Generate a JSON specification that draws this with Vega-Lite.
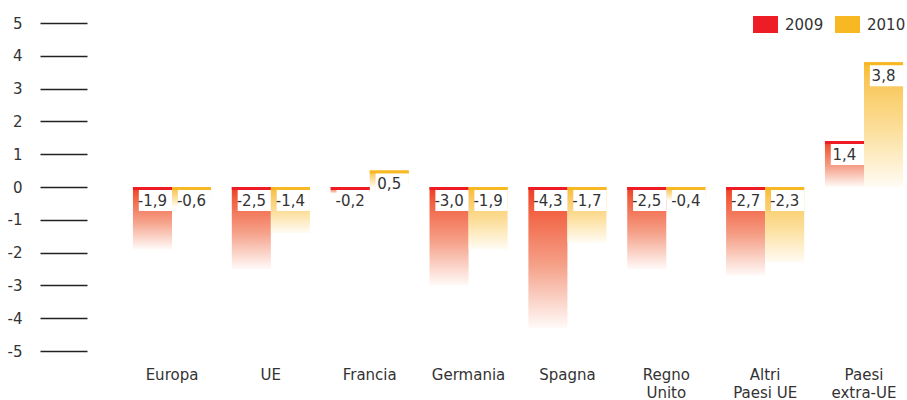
{
  "$schema": "https://vega.github.io/schema/vega-lite/v6.json",
  "width": 778,
  "height": 328,
  "autosize": {"type": "none"},
  "padding": {"left": 129, "top": 23, "right": 0, "bottom": 49},
  "config": {
    "view": {"stroke": null},
    "font": "DejaVu Sans",
    "locale": {"number": {"decimal": ",", "thousands": ".", "grouping": [3], "currency": ["€", ""], "minus": "-"}},
    "axisY": {
      "title": null, "grid": false, "domain": false, "offset": 42,
      "labelOverlap": false, "tickCount": 11,
      "tickSize": 47, "tickWidth": 1.5, "tickColor": "#222222",
      "labelPadding": 18, "labelFontSize": 15, "labelColor": "#333333",
      "labelFont": "DejaVu Sans", "format": "d"
    }
  },
  "data": {
    "values": [
      {"country": "Europa", "year": "2009", "value": -1.9},
      {"country": "Europa", "year": "2010", "value": -0.6},
      {"country": "UE", "year": "2009", "value": -2.5},
      {"country": "UE", "year": "2010", "value": -1.4},
      {"country": "Francia", "year": "2009", "value": -0.2},
      {"country": "Francia", "year": "2010", "value": 0.5},
      {"country": "Germania", "year": "2009", "value": -3.0},
      {"country": "Germania", "year": "2010", "value": -1.9},
      {"country": "Spagna", "year": "2009", "value": -4.3},
      {"country": "Spagna", "year": "2010", "value": -1.7},
      {"country": "Regno Unito", "year": "2009", "value": -2.5},
      {"country": "Regno Unito", "year": "2010", "value": -0.4},
      {"country": "Altri Paesi UE", "year": "2009", "value": -2.7},
      {"country": "Altri Paesi UE", "year": "2010", "value": -2.3},
      {"country": "Paesi extra-UE", "year": "2009", "value": 1.4},
      {"country": "Paesi extra-UE", "year": "2010", "value": 3.8}
    ]
  },
  "transform": [{"calculate": "max(datum.value, 0)", "as": "top"}],
  "encoding": {
    "x": {
      "field": "country", "type": "nominal", "sort": null,
      "scale": {"paddingInner": 0.21, "paddingOuter": 0.04},
      "axis": {
        "title": null, "ticks": false, "domain": false, "labelAngle": 0,
        "labelPadding": 16, "labelFontSize": 15, "labelColor": "#333333",
        "labelLineHeight": 18, "labelFont": "DejaVu Sans",
        "labelExpr": "datum.label == 'Regno Unito' ? ['Regno', 'Unito'] : datum.label == 'Altri Paesi UE' ? ['Altri', 'Paesi UE'] : datum.label == 'Paesi extra-UE' ? ['Paesi', 'extra-UE'] : datum.label"
      }
    },
    "xOffset": {"field": "year", "type": "nominal", "scale": {"domain": ["2009", "2010"], "paddingInner": 0, "paddingOuter": 0}}
  },
  "layer": [
    {
      "transform": [{"filter": "datum.year == '2009'"}],
      "mark": {
        "type": "bar",
        "fill": {"gradient": "linear", "x1": 0, "y1": 0, "x2": 0, "y2": 1,
          "stops": [
            {"offset": 0, "color": "#ee3a24"},
            {"offset": 0.15, "color": "#f15f3f"},
            {"offset": 0.55, "color": "#f5a088"},
            {"offset": 1, "color": "#fffaf8"}
          ]}
      },
      "encoding": {
        "y": {
          "field": "value", "type": "quantitative",
          "scale": {"domain": [-5, 5], "nice": false, "zero": false},
          "axis": {"values": [-5, -4, -3, -2, -1, 0, 1, 2, 3, 4, 5]}
        },
        "y2": {"datum": 0}
      }
    },
    {
      "transform": [{"filter": "datum.year == '2010'"}],
      "mark": {
        "type": "bar",
        "fill": {"gradient": "linear", "x1": 0, "y1": 0, "x2": 0, "y2": 1,
          "stops": [
            {"offset": 0, "color": "#f8bb2a"},
            {"offset": 0.15, "color": "#f9c75a"},
            {"offset": 0.55, "color": "#fcdf9d"},
            {"offset": 1, "color": "#fffcf4"}
          ]}
      },
      "encoding": {
        "y": {"field": "value", "type": "quantitative", "axis": {"values": [-5, -4, -3, -2, -1, 0, 1, 2, 3, 4, 5]}},
        "y2": {"datum": 0}
      }
    },
    {
      "mark": {"type": "bar", "y2Offset": 3},
      "encoding": {
        "y": {"field": "top", "type": "quantitative", "axis": {"values": [-5, -4, -3, -2, -1, 0, 1, 2, 3, 4, 5]}},
        "y2": {"field": "top"},
        "color": {
          "field": "year", "type": "nominal",
          "scale": {"domain": ["2009", "2010"], "range": ["#ee1d25", "#f8b823"]},
          "legend": {
            "title": null, "orient": "none", "legendX": 624, "legendY": -11,
            "direction": "horizontal",
            "symbolType": "M-1,-0.68H1V0.68H-1Z", "symbolSize": 625,
            "symbolStrokeWidth": 0, "labelFontSize": 15, "labelColor": "#333333",
            "labelFont": "DejaVu Sans", "labelOffset": 7, "columnPadding": 11, "padding": 0
          }
        }
      }
    },
    {
      "mark": {"type": "bar", "fill": "#ffffff", "yOffset": 3, "y2Offset": 24, "width": {"band": 0.85}},
      "encoding": {
        "y": {"field": "top", "type": "quantitative", "axis": {"values": [-5, -4, -3, -2, -1, 0, 1, 2, 3, 4, 5]}},
        "y2": {"field": "top"}
      }
    },
    {
      "mark": {"type": "text", "yOffset": 13.5, "baseline": "middle", "align": "center", "fontSize": 15, "color": "#333333", "font": "DejaVu Sans"},
      "encoding": {
        "y": {"field": "top", "type": "quantitative", "axis": {"values": [-5, -4, -3, -2, -1, 0, 1, 2, 3, 4, 5]}},
        "text": {"field": "value", "type": "quantitative", "format": ".1f"}
      }
    }
  ]
}
